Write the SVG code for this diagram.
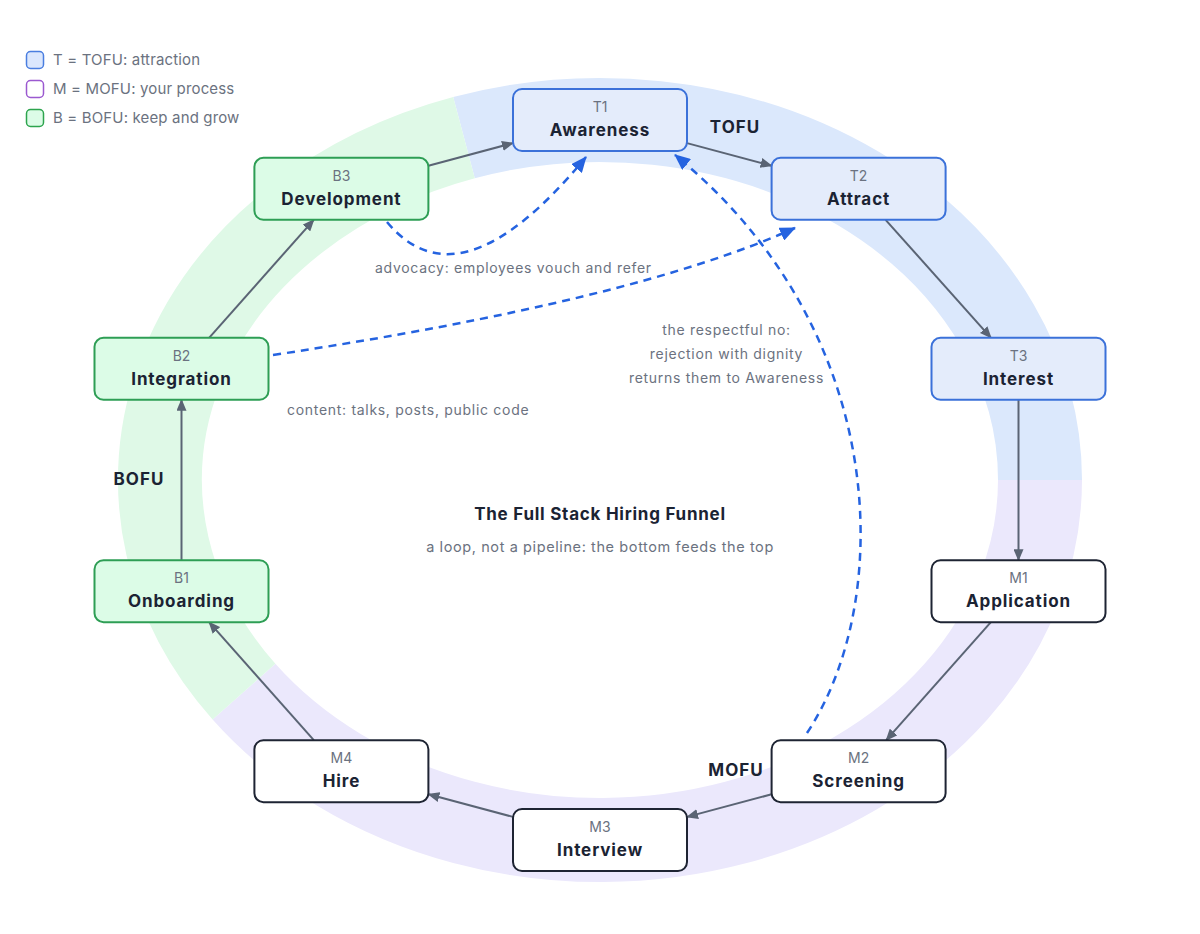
<svg xmlns="http://www.w3.org/2000/svg" width="1200" height="934" viewBox="0 0 1200 934">
<defs>
<marker id="ah" viewBox="0 0 12 10" refX="11" refY="5" markerWidth="12" markerHeight="10" markerUnits="userSpaceOnUse" orient="auto"><path d="M0,0 L12,5 L0,10 z" fill="#5a6474"/></marker>
<marker id="ahd" viewBox="0 0 16 14" refX="15" refY="7" markerWidth="16" markerHeight="14" markerUnits="userSpaceOnUse" orient="auto"><path d="M0,0 L16,7 L0,14 z" fill="#2563e0"/></marker>
<style>
text{font-family:Inter,"Noto Sans","Liberation Sans",sans-serif}
.ring{fill:none;stroke-width:84}
.nb{fill:#e4ecfb;stroke:#3b71d9;stroke-width:2}
.nm{fill:#ffffff;stroke:#1e2433;stroke-width:2}
.ng{fill:#dcfce7;stroke:#2e9e55;stroke-width:2}
.sub{font-size:14px;fill:#6b7280;text-anchor:middle}
.ttl{font-size:17px;font-weight:700;fill:#1b2333;text-anchor:middle;letter-spacing:0.9px}
.edge{fill:none;stroke:#5a6474;stroke-width:2;marker-end:url(#ah)}
.dash{fill:none;stroke:#2563e0;stroke-width:2.5;stroke-dasharray:8 6;marker-end:url(#ahd)}
.lbl{font-size:14px;fill:#6b7280;letter-spacing:0.7px}
.leg{font-size:15px;fill:#6b7280;letter-spacing:0.15px}
.phase{font-size:17px;font-weight:700;fill:#1b2333;text-anchor:middle;letter-spacing:1px}
</style>
</defs>
<rect width="1200" height="934" fill="#ffffff"/>
<g id="ring">
<path class="ring" stroke="#dbe8fc" d="M 464.0 137.6 A 440 360 0 0 1 1040 480"/>
<path class="ring" stroke="#ebe8fc" d="M 1040 480 A 440 360 0 0 1 244.0 691.6"/>
<path class="ring" stroke="#dff9e7" d="M 244.0 691.6 A 440 360 0 0 1 464.0 137.6"/>
</g>
<g id="legend">
<rect x="26.5" y="51.5" width="17" height="17" rx="4" fill="#dbe7fd" stroke="#4a7ee0" stroke-width="1.5"/>
<text class="leg" x="53" y="65">T = TOFU: attraction</text>
<rect x="26.5" y="80.5" width="17" height="17" rx="4" fill="#ffffff" stroke="#9b59d0" stroke-width="1.5"/>
<text class="leg" x="53" y="94">M = MOFU: your process</text>
<rect x="26.5" y="109.5" width="17" height="17" rx="4" fill="#dcfce7" stroke="#2da44e" stroke-width="1.5"/>
<text class="leg" x="53" y="123">B = BOFU: keep and grow</text>
</g>
<g id="connectors">
<line class="edge" x1="687" y1="143.1" x2="771.6" y2="165.7"/>
<line class="edge" x1="885.6" y1="219.8" x2="991" y2="337.8"/>
<line class="edge" x1="1018.5" y1="399.8" x2="1018.5" y2="560.2"/>
<line class="edge" x1="990.9" y1="622.2" x2="886.2" y2="740.2"/>
<line class="edge" x1="771.6" y1="794.3" x2="687" y2="816.9"/>
<line class="edge" x1="513" y1="816.9" x2="428.4" y2="794.3"/>
<line class="edge" x1="313.8" y1="740.2" x2="209.1" y2="622.2"/>
<line class="edge" x1="181.5" y1="560.2" x2="181.5" y2="399.8"/>
<line class="edge" x1="209.1" y1="337.8" x2="313.8" y2="219.8"/>
<line class="edge" x1="428.4" y1="165.7" x2="513" y2="143.1"/>
<path class="dash" d="M 387 222 Q 460 310 586 157"/>
<path class="dash" d="M 273 355 Q 633 301 795 228"/>
<path class="dash" d="M 807 733 C 895 600 890 330 675 155"/>
</g>
<g id="labels">
<text class="lbl" x="375" y="273">advocacy: employees vouch and refer</text>
<text class="lbl" x="287" y="415">content: talks, posts, public code</text>
<text class="lbl" x="726.5" y="335" text-anchor="middle">the respectful no:</text>
<text class="lbl" x="726.5" y="359" text-anchor="middle">rejection with dignity</text>
<text class="lbl" x="726.5" y="383" text-anchor="middle">returns them to Awareness</text>
<text class="phase" x="735" y="133">TOFU</text>
<text class="phase" x="736" y="776">MOFU</text>
<text class="phase" x="139" y="485">BOFU</text>
<text x="600" y="520" text-anchor="middle" font-size="17" font-weight="700" fill="#1b2333" letter-spacing="0.75">The Full Stack Hiring Funnel</text>
<text x="600" y="552" text-anchor="middle" font-size="14.5" fill="#6b7280" letter-spacing="0.6">a loop, not a pipeline: the bottom feeds the top</text>
</g>
<g id="T1"><rect class="nb" x="513" y="89" width="174" height="62" rx="9"/><text class="sub" x="600" y="112">T1</text><text class="ttl" x="600" y="136">Awareness</text></g>
<g id="T2"><rect class="nb" x="771.6" y="157.8" width="174" height="62" rx="9"/><text class="sub" x="858.6" y="180.8">T2</text><text class="ttl" x="858.6" y="204.8">Attract</text></g>
<g id="T3"><rect class="nb" x="931.5" y="337.8" width="174" height="62" rx="9"/><text class="sub" x="1018.5" y="360.8">T3</text><text class="ttl" x="1018.5" y="384.8">Interest</text></g>
<g id="M1"><rect class="nm" x="931.5" y="560.2" width="174" height="62" rx="9"/><text class="sub" x="1018.5" y="583.2">M1</text><text class="ttl" x="1018.5" y="607.2">Application</text></g>
<g id="M2"><rect class="nm" x="771.6" y="740.2" width="174" height="62" rx="9"/><text class="sub" x="858.6" y="763.2">M2</text><text class="ttl" x="858.6" y="787.2">Screening</text></g>
<g id="M3"><rect class="nm" x="513" y="809" width="174" height="62" rx="9"/><text class="sub" x="600" y="832">M3</text><text class="ttl" x="600" y="856">Interview</text></g>
<g id="M4"><rect class="nm" x="254.4" y="740.2" width="174" height="62" rx="9"/><text class="sub" x="341.4" y="763.2">M4</text><text class="ttl" x="341.4" y="787.2">Hire</text></g>
<g id="B1"><rect class="ng" x="94.5" y="560.2" width="174" height="62" rx="9"/><text class="sub" x="181.5" y="583.2">B1</text><text class="ttl" x="181.5" y="607.2">Onboarding</text></g>
<g id="B2"><rect class="ng" x="94.5" y="337.8" width="174" height="62" rx="9"/><text class="sub" x="181.5" y="360.8">B2</text><text class="ttl" x="181.5" y="384.8">Integration</text></g>
<g id="B3"><rect class="ng" x="254.4" y="157.8" width="174" height="62" rx="9"/><text class="sub" x="341.4" y="180.8">B3</text><text class="ttl" x="341.4" y="204.8">Development</text></g>
</svg>
